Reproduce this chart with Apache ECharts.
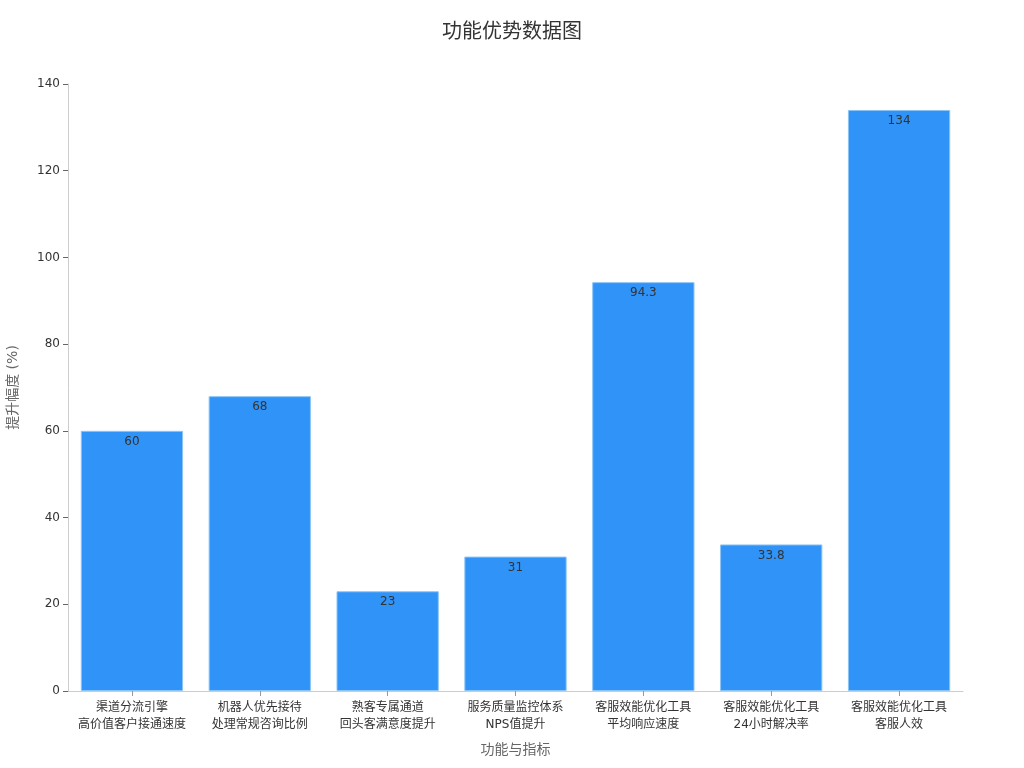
<!DOCTYPE html>
<html><head><meta charset="utf-8">
<script src="https://cdn.jsdelivr.net/npm/echarts@6/dist/echarts.min.js"></script>
<style>html,body{margin:0;padding:0;background:#fff}#c{width:1024px;height:768px}</style>
</head><body><div id="c"></div>
<script>
const categories = ['渠道分流引擎\n高价值客户接通速度','机器人优先接待\n处理常规咨询比例','熟客专属通道\n回头客满意度提升','服务质量监控体系\nNPS值提升','客服效能优化工具\n平均响应速度','客服效能优化工具\n24小时解决率','客服效能优化工具\n客服人效'];
const values = [60, 68, 23, 31, 94.3, 33.8, 134];
const yTicks = {min: 0, max: 140, interval: 20};
const chart = echarts.init(document.getElementById('c'));
chart.setOption({
  backgroundColor: '#fff',
  textStyle: {fontFamily: 'DejaVu Sans, Noto Sans CJK SC, sans-serif'},
  title: {text: '功能优势数据图', left: 'center', top: 18, textStyle: {fontSize: 20, fontWeight: 'normal', color: '#333'}},
  grid: {left: 68, right: 61, top: 84, bottom: 77, outerBoundsMode: 'none', containLabel: false},
  xAxis: {
    type: 'category', data: categories,
    name: '功能与指标', nameLocation: 'middle', nameGap: 52,
    nameTextStyle: {fontSize: 14, color: '#666'},
    axisLine: {lineStyle: {color: '#ccc'}},
    axisTick: {show: true, alignWithLabel: true, lineStyle: {color: '#999'}},
    axisLabel: {color: '#333', fontSize: 12, lineHeight: 17, interval: 0, margin: 8}
  },
  yAxis: {
    type: 'value', min: yTicks.min, max: yTicks.max, interval: yTicks.interval,
    name: '提升幅度 (%)', nameLocation: 'middle', nameGap: 48, nameRotate: 90,
    nameTextStyle: {fontSize: 14, color: '#666'},
    axisLine: {show: true, lineStyle: {color: '#ccc'}},
    axisTick: {show: true, lineStyle: {color: '#666'}},
    axisLabel: {color: '#333', fontSize: 12},
    splitLine: {show: false}
  },
  series: [{
    type: 'bar', data: values, barWidth: '80%',
    itemStyle: {color: '#2f93f7', borderColor: '#8cc4f5', borderWidth: 1},
    label: {show: true, position: 'insideTop', color: '#333', fontSize: 12, distance: 5}
  }]
});
</script></body></html>
